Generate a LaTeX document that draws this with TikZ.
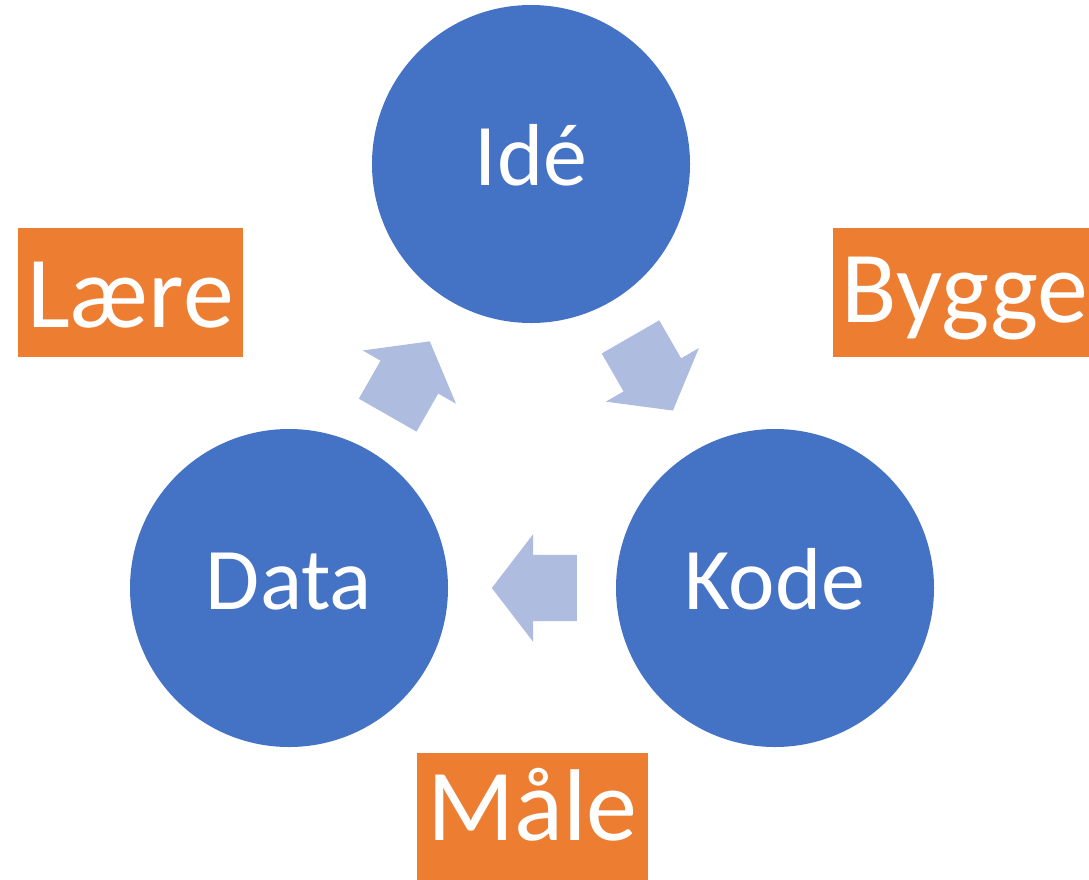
\documentclass[tikz,border=0pt]{standalone}
\usepackage{fontspec}
\setmainfont{Carlito}
\usetikzlibrary{shapes.arrows}

\definecolor{phaseblue}{HTML}{4472C4}
\definecolor{stepblue}{HTML}{AEBCE0}
\definecolor{actorange}{HTML}{ED7D31}

\tikzset{
  phase/.style={circle, fill=phaseblue, minimum size=318pt, inner sep=0pt,
    text=white, font=\fontsize{88}{100}\selectfont, text height=53pt, text depth=11pt},
  action/.style={rectangle, fill=actorange, minimum height=129pt, inner sep=0pt,
    text=white, font=\fontsize{102}{120}\selectfont, text height=69pt, text depth=0pt},
  cyclearrow/.style={single arrow, fill=stepblue, minimum width=107pt, minimum height=85pt,
    single arrow head extend=20.5pt, single arrow tip angle=105,
    inner xsep=0pt, inner ysep=33pt, sloped, allow upside down, pos=0.41}
}

\begin{document}
\begin{tikzpicture}[x=1pt,y=-1pt]
        \useasboundingbox (0,0) rectangle (1089,879);

        % Phases
        \node[phase] (ide) at (531,164) {Idé};
        \node[phase] (kode) at (775,588) {Kode};
        \node[phase] (data) at (289,588) {Data};

        % Actions
        \node[action, minimum width=225pt] (laere) at (130.5,292.5) {Lære};
        \node[action, minimum width=264pt, text depth=10pt] (bygge) at (965,292.5) {Bygge};
        \node[action, minimum width=231pt, text depth=24pt] (maale) at (532.5,817.5) {Måle};

        % Arrows between phases
        \path (ide) -- node[cyclearrow] (ab) {} (kode);
        \path (kode) -- node[cyclearrow] (bc) {} (data);
        \path (data) -- node[cyclearrow] (ca) {} (ide);

\end{tikzpicture}
\end{document}
